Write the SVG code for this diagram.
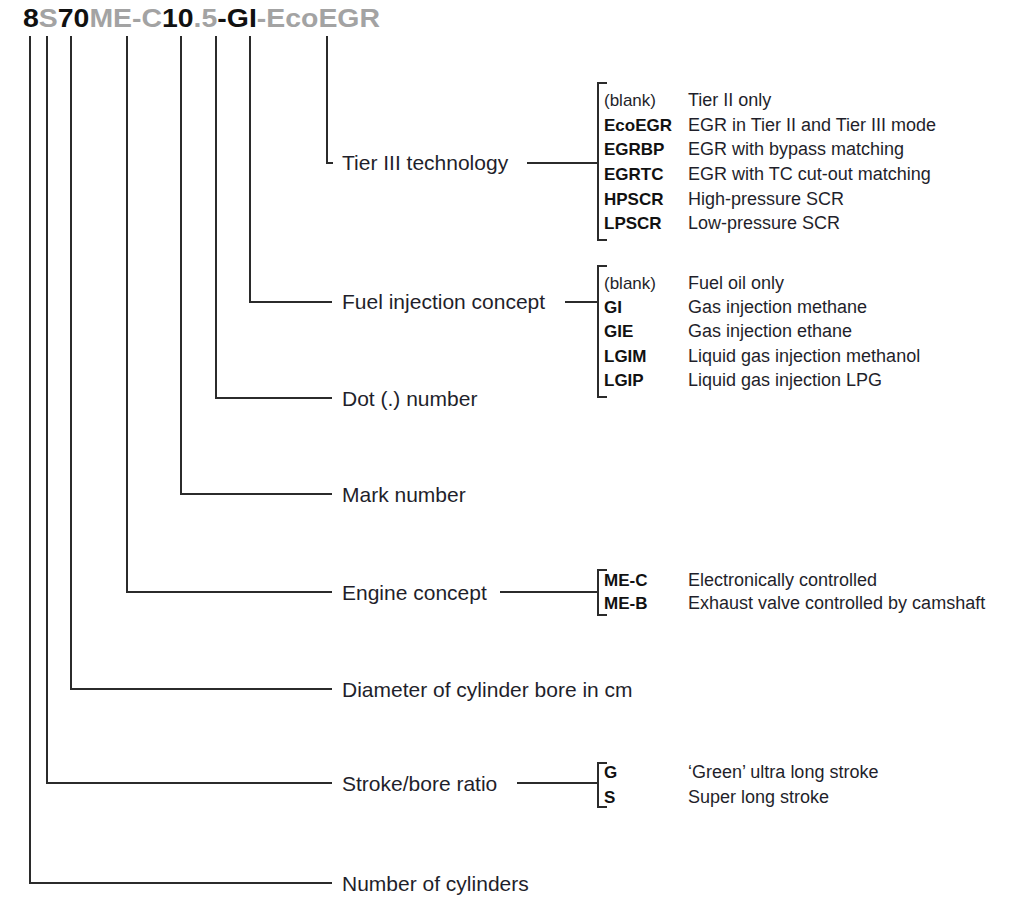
<svg xmlns="http://www.w3.org/2000/svg" width="1028" height="898" viewBox="0 0 1028 898">
<style>
.bg{fill:#ffffff}
.ln{fill:none;stroke:#2b2b2b;stroke-width:2}
.lbl{font-family:"Liberation Sans",Arial,sans-serif;font-size:21px;fill:#1f1f2b}
.code{font-family:"Liberation Sans",Arial,sans-serif;font-size:17px;font-weight:bold;fill:#111}
.desc{font-family:"Liberation Sans",Arial,sans-serif;font-size:18px;fill:#1f1f2b}
.blank{font-family:"Liberation Sans",Arial,sans-serif;font-size:17px;fill:#1f1f2b}
.title{font-family:"Liberation Sans",Arial,sans-serif;font-size:25px;font-weight:bold}
.k{fill:#111}
.g{fill:#a3a3a3}
</style>
<rect class="bg" x="0" y="0" width="1028" height="898"/>
<g id="title">
<text class="title" x="23" y="27" textLength="357" lengthAdjust="spacingAndGlyphs"><tspan class="k">8</tspan><tspan class="g">S</tspan><tspan class="k">70</tspan><tspan class="g">ME-C</tspan><tspan class="k">10</tspan><tspan class="g">.5</tspan><tspan class="k">-GI</tspan><tspan class="g">-EcoEGR</tspan></text>
</g>
<g id="connectors">
<path class="ln" d="M327 36 V163 H333"/>
<path class="ln" d="M250 36 V302 H332"/>
<path class="ln" d="M216 36 V398 H332"/>
<path class="ln" d="M181 36 V494 H332"/>
<path class="ln" d="M127 36 V592 H332"/>
<path class="ln" d="M71 36 V689 H332"/>
<path class="ln" d="M47 36 V783 H332"/>
<path class="ln" d="M30 36 V883 H332"/>
<path class="ln" d="M527 163 H598"/>
<path class="ln" d="M565 302 H598"/>
<path class="ln" d="M500 592 H598"/>
<path class="ln" d="M517 783 H598"/>
</g>
<g id="tier">
<text class="lbl" x="342" y="170">Tier III technology</text>
<path class="ln" d="M607 83 H598 V240 H607"/>
<text class="blank" x="604" y="106">(blank)</text><text class="desc" x="688" y="106">Tier II only</text>
<text class="code" x="604" y="131">EcoEGR</text><text class="desc" x="688" y="131">EGR in Tier II and Tier III mode</text>
<text class="code" x="604" y="155">EGRBP</text><text class="desc" x="688" y="155">EGR with bypass matching</text>
<text class="code" x="604" y="180">EGRTC</text><text class="desc" x="688" y="180">EGR with TC cut-out matching</text>
<text class="code" x="604" y="205">HPSCR</text><text class="desc" x="688" y="205">High-pressure SCR</text>
<text class="code" x="604" y="229">LPSCR</text><text class="desc" x="688" y="229">Low-pressure SCR</text>
</g>
<g id="fuel">
<text class="lbl" x="342" y="309">Fuel injection concept</text>
<path class="ln" d="M607 266 H598 V397 H607"/>
<text class="blank" x="604" y="289">(blank)</text><text class="desc" x="688" y="289">Fuel oil only</text>
<text class="code" x="604" y="313">GI</text><text class="desc" x="688" y="313">Gas injection methane</text>
<text class="code" x="604" y="337">GIE</text><text class="desc" x="688" y="337">Gas injection ethane</text>
<text class="code" x="604" y="362">LGIM</text><text class="desc" x="688" y="362">Liquid gas injection methanol</text>
<text class="code" x="604" y="386">LGIP</text><text class="desc" x="688" y="386">Liquid gas injection LPG</text>
</g>
<g id="dot"><text class="lbl" x="342" y="406">Dot (.) number</text></g>
<g id="mark"><text class="lbl" x="342" y="502">Mark number</text></g>
<g id="engine">
<text class="lbl" x="342" y="600">Engine concept</text>
<path class="ln" d="M607 570 H598 V615 H607"/>
<text class="code" x="604" y="586">ME-C</text><text class="desc" x="688" y="586">Electronically controlled</text>
<text class="code" x="604" y="609">ME-B</text><text class="desc" x="688" y="609">Exhaust valve controlled by camshaft</text>
</g>
<g id="diameter"><text class="lbl" x="342" y="697">Diameter of cylinder bore in cm</text></g>
<g id="stroke">
<text class="lbl" x="342" y="791">Stroke/bore ratio</text>
<path class="ln" d="M607 763 H598 V807 H607"/>
<text class="code" x="604" y="778">G</text><text class="desc" x="688" y="778">‘Green’ ultra long stroke</text>
<text class="code" x="604" y="803">S</text><text class="desc" x="688" y="803">Super long stroke</text>
</g>
<g id="cylinders"><text class="lbl" x="342" y="891">Number of cylinders</text></g>
</svg>
